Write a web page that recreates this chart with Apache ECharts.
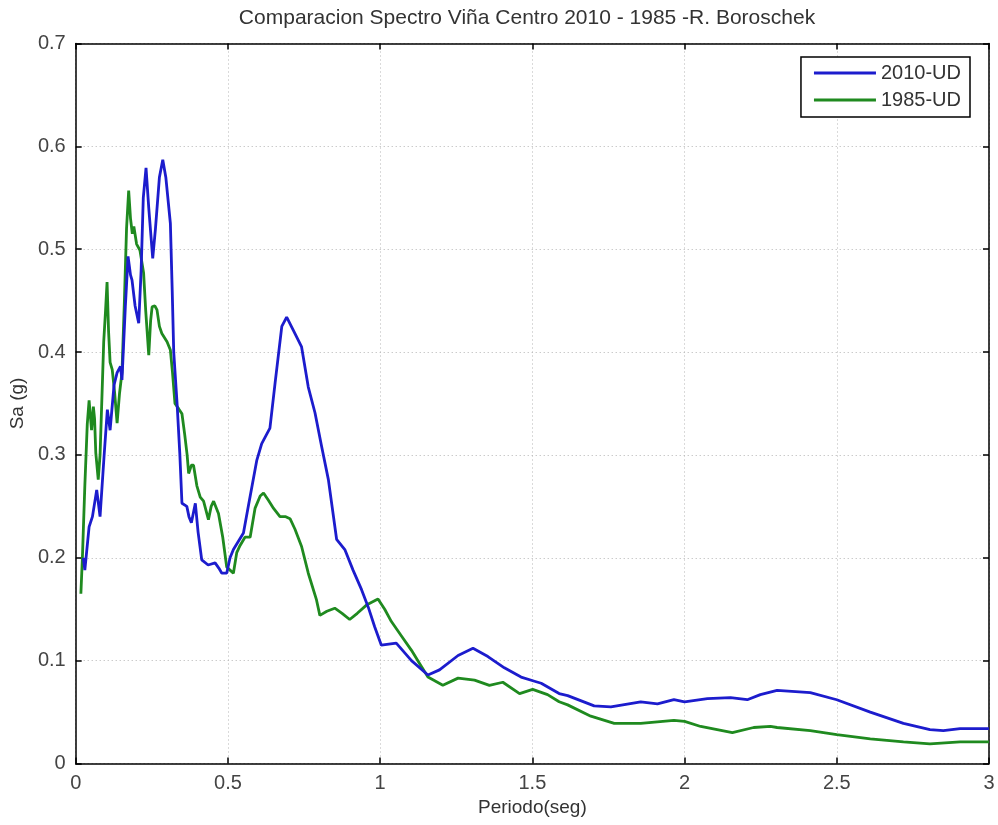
<!DOCTYPE html>
<html><head><meta charset="utf-8">
<script src="https://cdn.jsdelivr.net/npm/echarts@6/dist/echarts.min.js"></script>
<style>html,body{margin:0;padding:0;background:#fff}#c{width:998px;height:825px}</style>
</head><body><div id="c"></div>
<script>
const chartTitle = 'Comparacion Spectro Viña Centro 2010 - 1985 -R. Boroschek';
const seriesNames = ['2010-UD', '1985-UD'];
const xTicks = [0, 0.5, 1, 1.5, 2, 2.5, 3];
const yTicks = [0, 0.1, 0.2, 0.3, 0.4, 0.5, 0.6, 0.7];

const periods2010 = [0.025,0.030,0.044,0.055,0.069,0.080,0.093,0.104,0.113,0.126,0.136,0.147,0.152,0.163,0.172,0.180,0.185,0.195,0.207,0.215,0.222,0.231,0.240,0.253,0.262,0.275,0.286,0.296,0.311,0.317,0.322,0.333,0.342,0.349,0.365,0.372,0.380,0.393,0.402,0.414,0.435,0.458,0.470,0.480,0.496,0.507,0.518,0.551,0.567,0.595,0.611,0.638,0.655,0.677,0.693,0.715,0.742,0.764,0.786,0.808,0.830,0.857,0.884,0.911,0.939,0.961,0.982,1.004,1.053,1.103,1.157,1.195,1.256,1.305,1.354,1.408,1.463,1.507,1.529,1.588,1.616,1.703,1.758,1.856,1.911,1.965,2.000,2.075,2.151,2.206,2.249,2.304,2.413,2.500,2.610,2.719,2.806,2.850,2.905,3.000];
const sa2010 = [0.200,0.188,0.230,0.240,0.266,0.240,0.298,0.344,0.324,0.368,0.380,0.386,0.373,0.444,0.493,0.475,0.470,0.445,0.428,0.480,0.550,0.579,0.540,0.491,0.520,0.570,0.587,0.570,0.525,0.460,0.400,0.350,0.301,0.253,0.250,0.240,0.234,0.253,0.225,0.198,0.193,0.195,0.190,0.185,0.185,0.200,0.208,0.224,0.250,0.295,0.311,0.326,0.370,0.425,0.434,0.421,0.405,0.366,0.341,0.308,0.276,0.218,0.208,0.188,0.169,0.152,0.133,0.115,0.117,0.100,0.086,0.091,0.105,0.112,0.104,0.093,0.084,0.080,0.078,0.068,0.066,0.056,0.055,0.060,0.058,0.062,0.060,0.063,0.064,0.062,0.067,0.071,0.069,0.062,0.050,0.039,0.033,0.032,0.034,0.034];

const periods1985 = [0.017,0.022,0.030,0.038,0.044,0.052,0.058,0.062,0.066,0.074,0.080,0.088,0.092,0.098,0.103,0.108,0.113,0.120,0.128,0.136,0.144,0.152,0.160,0.167,0.174,0.180,0.186,0.191,0.200,0.211,0.223,0.230,0.240,0.246,0.251,0.260,0.267,0.275,0.283,0.300,0.311,0.318,0.326,0.338,0.349,0.358,0.366,0.371,0.380,0.387,0.398,0.409,0.420,0.436,0.445,0.453,0.469,0.483,0.496,0.507,0.518,0.529,0.540,0.556,0.573,0.589,0.606,0.617,0.633,0.650,0.671,0.690,0.704,0.720,0.742,0.764,0.791,0.802,0.825,0.851,0.875,0.900,0.925,0.955,0.993,1.015,1.037,1.070,1.103,1.130,1.157,1.206,1.256,1.310,1.359,1.403,1.458,1.501,1.550,1.588,1.616,1.692,1.769,1.856,1.965,2.000,2.053,2.157,2.227,2.282,2.304,2.413,2.500,2.610,2.719,2.806,2.905,3.000];
const sa1985 = [0.165,0.200,0.270,0.330,0.353,0.324,0.347,0.335,0.302,0.276,0.300,0.373,0.410,0.440,0.468,0.420,0.390,0.383,0.360,0.331,0.360,0.380,0.450,0.520,0.557,0.530,0.515,0.522,0.505,0.499,0.477,0.440,0.397,0.430,0.444,0.445,0.441,0.425,0.418,0.410,0.402,0.380,0.350,0.345,0.340,0.320,0.300,0.282,0.290,0.290,0.270,0.259,0.255,0.237,0.250,0.255,0.243,0.220,0.191,0.188,0.185,0.205,0.212,0.220,0.220,0.248,0.260,0.263,0.256,0.248,0.240,0.240,0.238,0.228,0.211,0.185,0.159,0.144,0.148,0.151,0.146,0.140,0.146,0.154,0.160,0.150,0.138,0.124,0.110,0.097,0.084,0.076,0.083,0.081,0.076,0.079,0.068,0.072,0.067,0.060,0.057,0.046,0.039,0.039,0.042,0.041,0.036,0.030,0.035,0.036,0.035,0.032,0.028,0.024,0.021,0.019,0.021,0.021];

const FONT = '"Liberation Sans", Arial, Helvetica, sans-serif';
const zip = (xs, ys) => xs.map((x, i) => [x, ys[i]]);
const fmt = v => String(+v.toFixed(2));

const chart = echarts.init(document.getElementById('c'), null, {renderer: 'canvas'});
const baseX = {
  type: 'value', min: xTicks[0], max: xTicks[xTicks.length - 1], interval: xTicks[1] - xTicks[0],
  axisLine: {show: true, onZero: false, lineStyle: {color: '#000', width: 1.5}},
  axisTick: {show: true, inside: true, length: 6, lineStyle: {color: '#000', width: 1.5}}
};
const baseY = {
  type: 'value', min: yTicks[0], max: yTicks[yTicks.length - 1], interval: 0.1,
  axisLine: {show: true, onZero: false, lineStyle: {color: '#000', width: 1.5}},
  axisTick: {show: true, inside: true, length: 6, lineStyle: {color: '#000', width: 1.5}}
};
chart.setOption({
  animation: false,
  backgroundColor: '#fff',
  title: {
    text: chartTitle, left: 522, top: 3, textAlign: 'center',
    textStyle: {fontFamily: FONT, fontSize: 21, fontWeight: 'normal', color: '#333'}
  },
  grid: {left: 74, right: 9, top: 43.5, bottom: 61.5, containLabel: false},
  legend: {
    orient: 'vertical', right: 28, top: 57, align: 'left',
    icon: 'rect', itemWidth: 62, itemHeight: 3, itemGap: 7,
    padding: [6, 9, 7, 13], borderColor: '#000', borderWidth: 1.5, backgroundColor: '#fff',
    textStyle: {fontFamily: FONT, fontSize: 20, color: '#333'},
    data: seriesNames
  },
  xAxis: [
    Object.assign({}, baseX, {
      position: 'bottom',
      name: 'Periodo(seg)', nameLocation: 'middle', nameGap: 30,
      nameTextStyle: {fontFamily: FONT, fontSize: 19, color: '#333'},
      axisLabel: {margin: 10, fontFamily: FONT, fontSize: 20, color: '#444', formatter: fmt},
      splitLine: {show: true, lineStyle: {color: '#b4b4b4', type: [1, 3], width: 1}}
    }),
    Object.assign({}, baseX, {position: 'top', axisLabel: {show: false}, splitLine: {show: false}})
  ],
  yAxis: [
    Object.assign({}, baseY, {
      position: 'left',
      name: 'Sa (g)', nameLocation: 'middle', nameGap: 46,
      nameTextStyle: {fontFamily: FONT, fontSize: 19, color: '#333'},
      axisLabel: {margin: 10, fontFamily: FONT, fontSize: 20, color: '#444', formatter: fmt},
      splitLine: {show: true, lineStyle: {color: '#b4b4b4', type: [1, 3], width: 1}}
    }),
    Object.assign({}, baseY, {position: 'right', axisLabel: {show: false}, splitLine: {show: false}})
  ],
  series: [
    {
      name: seriesNames[0], type: 'line', xAxisIndex: 0, yAxisIndex: 0,
      data: zip(periods2010, sa2010), showSymbol: false, symbol: 'none',
      itemStyle: {color: '#1c1ccd'}, lineStyle: {color: '#1c1ccd', width: 2.8}, z: 3
    },
    {
      name: seriesNames[1], type: 'line', xAxisIndex: 0, yAxisIndex: 0,
      data: zip(periods1985, sa1985), showSymbol: false, symbol: 'none',
      itemStyle: {color: '#1f8a1f'}, lineStyle: {color: '#1f8a1f', width: 2.8}, z: 2
    }
  ]
});
</script></body></html>
